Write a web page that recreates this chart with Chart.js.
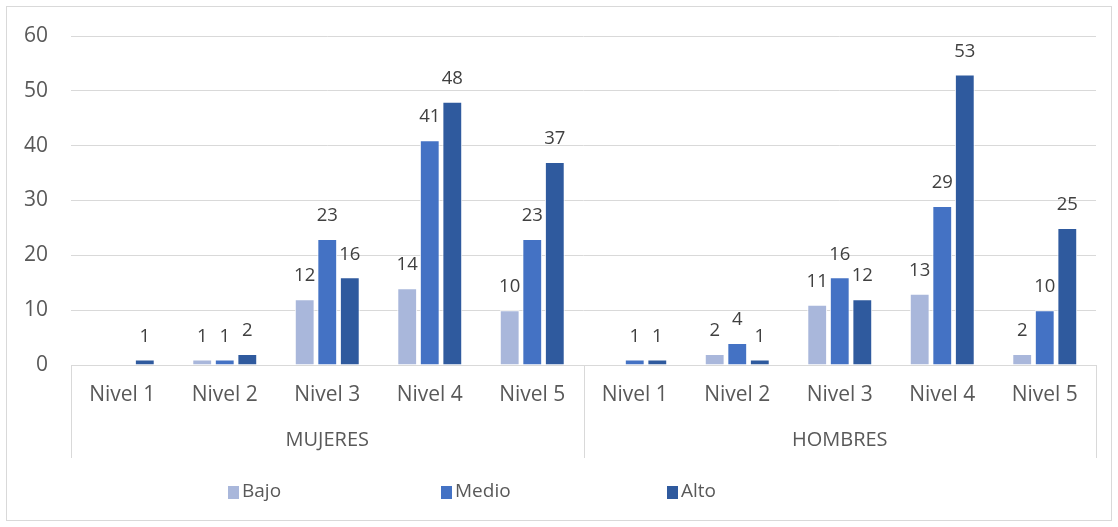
<!DOCTYPE html>
<html><head><meta charset="utf-8">
<script src="https://cdn.jsdelivr.net/npm/chart.js@4/dist/chart.umd.min.js"></script>
<style>html,body{margin:0;padding:0;background:#fff;} canvas{display:block;}</style>
</head><body>
<canvas id="c" width="1118" height="527"></canvas>
<script>
const niveles = ['Nivel 1', 'Nivel 2', 'Nivel 3', 'Nivel 4', 'Nivel 5'];
const grupos = ['MUJERES', 'HOMBRES'];
const categories = [...niveles, ...niveles];
const seriesNames = ['Bajo', 'Medio', 'Alto'];
const bajo  = [null, 1, 12, 14, 10, null, 2, 11, 13, 2];
const medio = [null, 1, 23, 41, 23, 1, 4, 16, 29, 10];
const alto  = [1, 2, 16, 48, 37, 1, 1, 12, 53, 25];
const yTicks = [0, 10, 20, 30, 40, 50, 60];
const colors = ['#A9B7DB', '#4472C4', '#2F5A9E'];

const FONT = "'Open Sans', 'DejaVu Sans', sans-serif";
const TEXT = '#595959';

const decor = {
  id: 'decor',
  beforeDraw(chart) {
    const ctx = chart.ctx;
    ctx.save();
    ctx.strokeStyle = '#d9d9d9';
    ctx.lineWidth = 1;
    ctx.strokeRect(6.5, 6.5, chart.width - 13, chart.height - 13);
    ctx.restore();
  },
  afterDraw(chart) {
    const ctx = chart.ctx;
    const x = chart.scales.x, x2 = chart.scales.x2;
    ctx.save();
    ctx.strokeStyle = '#d9d9d9';
    ctx.lineWidth = 1;
    const n = categories.length;
    const mid = (x.getPixelForValue(n / 2 - 1) + x.getPixelForValue(n / 2)) / 2;
    [x.left, mid, x.right].forEach(px => {
      const p = Math.round(px) + 0.5;
      ctx.beginPath();
      ctx.moveTo(p, x.top);
      ctx.lineTo(p, x2.bottom);
      ctx.stroke();
    });
    // data labels
    ctx.fillStyle = '#404040';
    ctx.font = "18.5px " + FONT;
    ctx.textAlign = 'center';
    ctx.textBaseline = 'middle';
    chart.data.datasets.forEach((ds, i) => {
      const meta = chart.getDatasetMeta(i);
      meta.data.forEach((bar, j) => {
        const v = ds.data[j];
        if (v === null || v === undefined) return;
        ctx.fillText(String(v), bar.x, bar.y - 23);
      });
    });
    // legend
    const legendX = [228, 441, 667];
    const ly = 492;
    ctx.font = "19px " + FONT;
    ctx.textAlign = 'left';
    chart.data.datasets.forEach((ds, i) => {
      ctx.fillStyle = ds.backgroundColor;
      ctx.fillRect(legendX[i], ly - 6, 11, 13);
      ctx.fillStyle = TEXT;
      ctx.fillText(ds.label, legendX[i] + 14, ly);
    });
    ctx.restore();
  }
};

new Chart(document.getElementById('c'), {
  type: 'bar',
  data: {
    labels: categories,
    datasets: [
      { label: seriesNames[0], data: bajo, backgroundColor: colors[0], borderColor: '#ffffff', borderWidth: 1 },
      { label: seriesNames[1], data: medio, backgroundColor: colors[1], borderColor: '#ffffff', borderWidth: 1 },
      { label: seriesNames[2], data: alto, backgroundColor: colors[2], borderColor: '#ffffff', borderWidth: 1 }
    ]
  },
  options: {
    responsive: false,
    animation: false,
    devicePixelRatio: 1,
    layout: { padding: { left: 0, right: 22, top: 36, bottom: 69 } },
    datasets: { bar: { categoryPercentage: 0.66, barPercentage: 0.88 } },
    plugins: { legend: { display: false }, tooltip: { enabled: false } },
    scales: {
      y: {
        min: 0, max: 60,
        afterBuildTicks(s) { s.ticks = yTicks.map(v => ({ value: v })); },
        afterFit(s) { s.width = 71; },
        grid: { color: '#d9d9d9', drawTicks: false },
        border: { display: false },
        ticks: { color: TEXT, font: { family: FONT, size: 21 }, padding: 23 }
      },
      x: {
        weight: 0,
        grid: { display: false, drawTicks: false },
        border: { display: true, color: '#d9d9d9' },
        ticks: { color: TEXT, font: { family: FONT, size: 21 }, padding: 17, maxRotation: 0, autoSkip: false },
        afterFit(s) { s.height = 47; }
      },
      x2: {
        type: 'category',
        labels: grupos,
        position: 'bottom',
        offset: true,
        weight: 1,
        grid: { display: false, drawTicks: false },
        border: { display: false },
        ticks: { color: TEXT, font: { family: FONT, size: 20 }, padding: 16, maxRotation: 0 },
        afterFit(s) { s.height = 46; }
      }
    }
  },
  plugins: [decor]
});
</script>
</body></html>
